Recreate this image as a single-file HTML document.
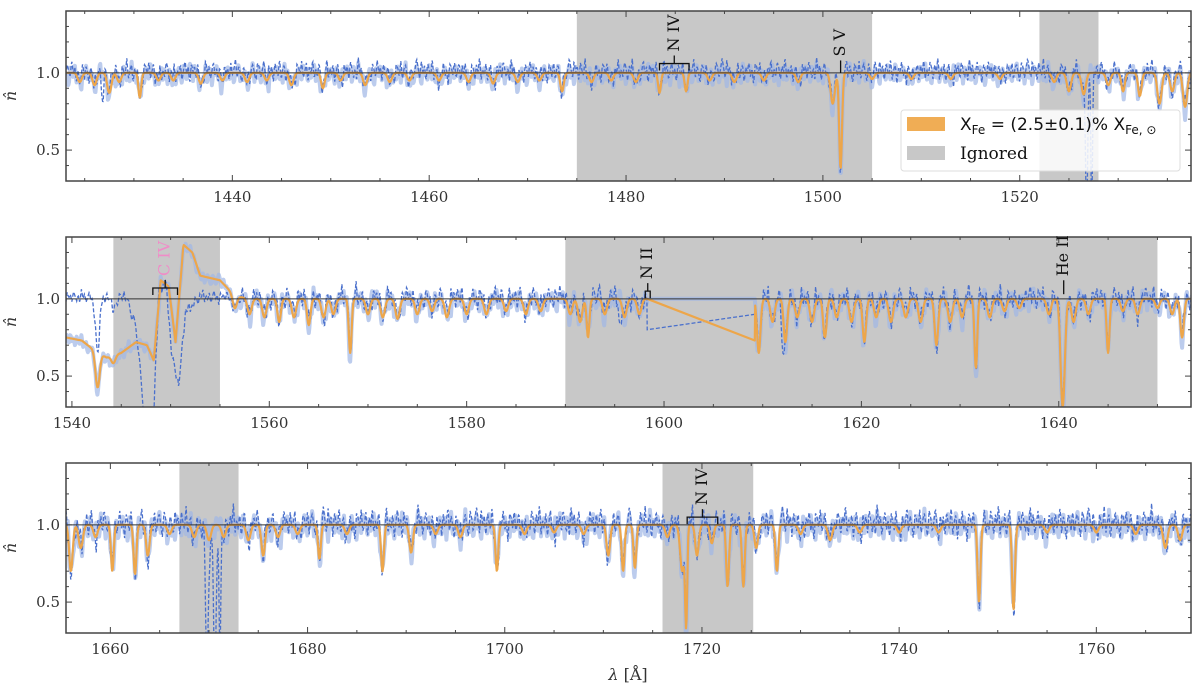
<!DOCTYPE html>
<html><head><meta charset="utf-8">
<style>
html,body{margin:0;padding:0;background:#fff;}
svg{display:block;font-family:"DejaVu Serif","Liberation Serif",serif;}
</style></head>
<body>
<svg id="chart" width="1200" height="686" viewBox="0 0 1200 686" xmlns="http://www.w3.org/2000/svg"></svg>
<script>
// ---- data ----
const panelRanges = [[1423.1,1537.4],[1539.4,1653.4],[1655.5,1769.6]];
const xTicks1 = [1440,1460,1480,1500,1520];
const xTicks2 = [1540,1560,1580,1600,1620,1640];
const xTicks3 = [1660,1680,1700,1720,1740,1760];
const yTicks = [0.5,1.0];
const ignored1 = [[1475,1505],[1522,1528]];
const ignored2 = [[1544.2,1555],[1590,1650]];
const ignored3 = [[1667,1673],[1716,1725.2]];
const lines1 = [[1424.5,0.06,0.3],[1426,0.08,0.3],[1427.5,0.13,0.3],[1428.5,0.06,.3],[1430.6,0.16,0.2],[1432.5,0.05,.3],[1434,0.05,.3],[1436.8,0.07,.3],[1439,0.05,.3],[1441.5,0.06,.3],[1443.5,0.05,.3],[1446,0.08,.3],[1449.2,0.1,.25],[1451,0.05,.3],[1453.5,0.08,.3],[1456,0.06,.3],[1458,0.05,.3],[1461,0.05,.3],[1464,0.06,.3],[1466.5,0.07,.3],[1469,0.06,.3],[1471.2,0.05,.3],[1473.5,0.12,.25],[1476.5,0.06,.3],[1478.5,0.05,.3],[1481,0.06,.3],[1483.4,0.13,.2],[1486.1,0.12,.2],[1488.5,0.05,.3],[1491,0.06,.3],[1494,0.05,.3],[1497.5,0.06,.3],[1501.0,0.2,.3],[1501.8,0.62,.2],[1505,0.04,.3],[1509,0.04,.3],[1513,0.04,.3],[1518,0.04,.3],[1523.5,0.06,.3],[1525,0.12,.3],[1526.5,0.14,.3],[1529,0.08,.3],[1530.5,0.12,.25],[1532.2,0.15,.25],[1534.2,0.2,.3],[1535.5,0.12,.3],[1536.8,0.22,.3]];
const lines2 = [[1542.6,0.35,.3],[1544.2,0.08,.3],[1556.5,0.08,.3],[1558,0.1,.3],[1559.5,0.12,.3],[1561,0.15,.25],[1562.5,0.12,.3],[1564,0.17,.25],[1565.5,0.12,.3],[1566.5,0.1,.3],[1568.2,0.35,.2],[1570,0.1,.3],[1571.5,0.12,.3],[1573,0.13,.3],[1575,0.1,.3],[1576.5,0.08,.3],[1578,0.12,.3],[1580,0.1,.3],[1582,0.1,.3],[1584,0.08,.3],[1586,0.1,.3],[1587.5,0.08,.3],[1590.5,0.1,.3],[1591.5,0.15,.3],[1592.3,0.25,.2],[1594,0.1,.3],[1596,0.12,.3],[1597.5,0.1,.3],[1609.6,0.35,.25],[1611,0.15,.3],[1612.3,0.28,.25],[1613.5,0.12,.3],[1615,0.15,.3],[1616.3,0.25,.25],[1617.5,0.12,.3],[1619,0.15,.3],[1620.3,0.28,.25],[1621.5,0.12,.3],[1623,0.15,.3],[1624.5,0.12,.3],[1626,0.15,.3],[1627.6,0.3,.25],[1629,0.15,.3],[1630.2,0.12,.3],[1631.6,0.45,.2],[1633,0.12,.3],[1634.5,0.08,.3],[1636,0.06,.3],[1639,0.1,.3],[1640.4,0.7,.3],[1641.5,0.15,.3],[1643,0.1,.3],[1645,0.35,.2],[1646.5,0.08,.3],[1648,0.1,.3],[1650,0.06,.3],[1651.5,0.1,.3],[1652.5,0.25,.25]];
const lines3 = [[1656,0.3,.25],[1657,0.15,.3],[1658.5,0.08,.3],[1660.2,0.3,.2],[1662.5,0.32,.2],[1663.8,0.2,.25],[1666,0.06,.3],[1668.5,0.08,.3],[1670,0.1,.3],[1671.5,0.08,.3],[1674,0.1,.3],[1675.5,0.2,.25],[1677,0.08,.3],[1679,0.06,.3],[1681.2,0.22,.2],[1684,0.06,.3],[1687.6,0.3,.2],[1690.5,0.18,.25],[1693,0.06,.3],[1695.5,0.08,.3],[1699.2,0.3,.2],[1702,0.06,.3],[1705,0.05,.3],[1708,0.06,.3],[1710.5,0.2,.25],[1712,0.3,.2],[1713.2,0.28,.2],[1716.5,0.08,.3],[1718.0,0.3,.3],[1718.4,0.62,.15],[1719.5,0.2,.25],[1721,0.12,.25],[1722.6,0.4,.2],[1724.2,0.4,.2],[1725.5,0.15,.25],[1727.6,0.3,.2],[1730,0.06,.3],[1733,0.1,.3],[1736,0.05,.3],[1740,0.05,.3],[1744,0.05,.3],[1748.1,0.5,.2],[1751.6,0.55,.2],[1755,0.05,.3],[1760,0.05,.3],[1764,0.06,.3],[1767,0.15,.3],[1768.5,0.1,.3]];
const obsExtra1 = [[1426.8,0.15,.2],[1526.8,0.9,.15],[1527.3,0.9,.12]];
const obsExtra2 = [[1612.0,0.3,.15],[1595.5,0.2,.15]];
const obsExtra3 = [[1656.2,0.12,.2],[1669.8,0.95,.2],[1670.6,0.95,.2],[1671.1,0.9,.12]];
const modelCont2 = [[1539.4,0.75],[1541,0.73],[1542,0.68],[1543.5,0.62],[1545,0.65],[1546.5,0.72],[1547.6,0.7],[1548.3,0.6],[1549,1.12],[1549.8,1.08],[1550.5,0.72],[1551.3,1.35],[1552.2,1.3],[1553,1.15],[1555,1.12],[1556.5,1.02],[1558,1.0],[1653.4,1.0]];
const obsCont2 = [[1539.4,1.0],[1545.5,1.0],[1546.5,0.8],[1547.3,0.25],[1548.3,0.25],[1548.8,1.05],[1549.5,1.1],[1550.2,0.6],[1550.8,0.42],[1551.5,0.9],[1553,1.0],[1653.4,1.0]];
const gap2 = [1598.3,1609.2];
const gapModel2 = [1.0,0.73];
const gapObs2 = [0.8,0.9];
const noise = [0.3,-0.8,1.2,-0.2,0.6,-1.1,0.9,0.1,-0.5,1.4,-0.9,0.2,0.7,-1.3,0.4,-0.1,1.0,-0.6,0.3,-1.5,0.8,0.5,-0.4,1.1,-0.7,0.0,0.9,-1.2,0.6,-0.3,1.3,-0.8,0.2,-0.6,1.0,0.4,-1.0,0.7,-0.2,1.6,-0.9,0.3,-0.5,0.8,-1.1,0.1,1.2,-0.4,0.5,-1.4,0.9,-0.1,0.6,-0.8,1.1,0.2,-0.7,0.4,-1.0,1.5,-0.3,0.7,-0.9,0.0,1.0,-0.5,0.3,-1.2,0.8,0.1,-0.6,1.2,-0.2,0.5,-1.0,0.9,-0.4,0.2,1.3,-0.8,0.6,-0.1,-1.3,0.7,0.4,-0.6,1.1,-0.9,0.3,0.8,-0.2,-1.1,1.0,0.5,-0.7,0.2,1.4];

// ---- drawing ----
const svg = document.getElementById('chart');
const NS = 'http://www.w3.org/2000/svg';
const X0 = 66, X1 = 1191;
const panelTops = [11,237,463];
const PH = 170;
const noiseAmp = [0.06,0.065,0.08];
function mk(tag, attrs, parent){ const e=document.createElementNS(NS,tag); for(const k in attrs) e.setAttribute(k,attrs[k]); (parent||svg).appendChild(e); return e; }
function interp(knots,x){ if(!knots) return 1; for(let i=0;i<knots.length-1;i++){ if(x>=knots[i][0]&&x<=knots[i+1][0]){ const t=(x-knots[i][0])/(knots[i+1][0]-knots[i][0]); return knots[i][1]+t*(knots[i+1][1]-knots[i][1]); } } return knots[knots.length-1][1]; }
function prof(lines,x){ let v=1; for(const l of lines){ const d=(x-l[0])/l[2]; if(Math.abs(d)<5) v-= l[1]*Math.exp(-d*d); } return v; }
function nz(x,off){ const p=x/0.16+off; const i=Math.floor(p); const t=p-i; const n=noise.length; const a=noise[((i%n)+n)%n], b=noise[(((i+1)%n)+n)%n]; return a+(b-a)*t; }

const tickSets=[xTicks1,xTicks2,xTicks3];
const ignSets=[ignored1,ignored2,ignored3];
const lineSets=[lines1,lines2,lines3];
const extraSets=[obsExtra1,obsExtra2,obsExtra3];
const modelConts=[null,modelCont2,null];
const obsConts=[null,obsCont2,null];

panelRanges.forEach((rng,pi)=>{
  const top=panelTops[pi], bot=top+PH;
  const sx=w=>X0+(w-rng[0])/(rng[1]-rng[0])*(X1-X0);
  const sy=v=>top+(1.4-v)/1.1*PH;
  const g=mk('g',{});
  
  
  const cp=mk('clipPath',{id:'cp'+pi},g); mk('rect',{x:X0,y:top,width:X1-X0,height:PH},cp);
  const body=mk('g',{'clip-path':'url(#cp'+pi+')'},g);
  ignSets[pi].forEach(r=>{
    const rr=mk('rect',{x:sx(r[0]),y:top,width:sx(r[1])-sx(r[0]),height:PH,fill:'#c8c8c8'},body);
    
    
  });
  const lines=lineSets[pi], extra=extraSets[pi];
  const ptsM=[],ptsO=[],ptsL=[];
  let gapDone=false;
  for(let w=rng[0]; w<=rng[1]; w+=0.06){
    if(pi===1 && w>gap2[0] && w<gap2[1]){
      if(!gapDone){ ptsM.push([gap2[0],gapModel2[0]],[gap2[1],gapModel2[1]]); ptsO.push([gap2[0],gapObs2[0]],[gap2[1],gapObs2[1]]); ptsL.push([gap2[0],1.0],[gap2[1],1.0]); gapDone=true; }
      continue;
    }
    const m=interp(modelConts[pi],w)*prof(lines,w);
    const base=interp(obsConts[pi],w)*prof(lines,w)*prof(extra,w);
    const amp = pi===1&&w<1557? 0.035 : noiseAmp[pi];
    ptsM.push([w,m]);
    ptsO.push([w,base+amp*nz(w,pi*31)+0.01]);
    ptsL.push([w,m+amp*0.9*nz(w,pi*31+47)-0.01]);
  }
  const toD=p=>p.map((q,i)=>(i?'L':'M')+sx(q[0]).toFixed(1)+' '+sy(q[1]).toFixed(1)).join('');
  const pl=mk('path',{d:toD(ptsL),fill:'none',stroke:'#9fb6e6','stroke-width':4,'stroke-opacity':0.7,'stroke-linejoin':'round'},body);
  
  
  const po=mk('path',{d:toD(ptsO),fill:'none',stroke:'#4a70cc','stroke-width':1.3,'stroke-dasharray':'4 2'},body);
  
  
  const pm=mk('path',{d:toD(ptsM),fill:'none',stroke:'#eda64a','stroke-width':2.2,'stroke-linejoin':'round'},body);
  
  
  const cl=mk('line',{x1:X0,x2:X1,y1:sy(1),y2:sy(1),stroke:'#333','stroke-width':1},body);
  
  
  const fr=mk('rect',{x:X0,y:top,width:X1-X0,height:PH,fill:'none',stroke:'#444','stroke-width':1.5},g);
  
  
  for(let t=Math.ceil(rng[0]/5)*5;t<=rng[1];t+=5){
    const x=sx(t), big=t%20===0, L=big?6:3;
    mk('line',{x1:x,x2:x,y1:bot,y2:bot-L,stroke:'#444','stroke-width':1},g);
    mk('line',{x1:x,x2:x,y1:top,y2:top+L,stroke:'#444','stroke-width':1},g);
  }
  tickSets[pi].forEach(t=>{
    const tx=mk('text',{x:sx(t),y:bot+21,'text-anchor':'middle','font-size':15,fill:'#333'},g);
    tx.textContent=t;
    
    
  });
  for(let v=0.4;v<=1.31;v+=0.1){
    const y=sy(v), big=Math.abs(v-0.5)<0.01||Math.abs(v-1)<0.01, L=big?6:3;
    mk('line',{x1:X0,x2:X0+L,y1:y,y2:y,stroke:'#444','stroke-width':1},g);
    mk('line',{x1:X1,x2:X1-L,y1:y,y2:y,stroke:'#444','stroke-width':1},g);
  }
  yTicks.forEach(v=>{
    const tx=mk('text',{x:X0-6,y:sy(v)+5,'text-anchor':'end','font-size':15,fill:'#333'},g);
    tx.textContent=v.toFixed(1);
    
    
  });
  const yl=mk('text',{x:16,y:sy(0.85),'text-anchor':'middle','font-size':16,fill:'#333',transform:'rotate(-90 16 '+sy(0.85)+')','font-style':'italic'},g);
  yl.textContent='n̂';
  
  
  panelRanges[pi].sx=sx; panelRanges[pi].sy=sy;
});

function bracket(pi,w0,w1,v,label,color){
  const sx=panelRanges[pi].sx, sy=panelRanges[pi].sy, y=sy(v), xm=(sx(w0)+sx(w1))/2;
  const g=mk('g',{});
  
  
  mk('path',{d:`M${sx(w0)} ${y+7}V${y}H${sx(w1)}V${y+7}M${xm} ${y}V${y-8}`,fill:'none',stroke:'#111','stroke-width':1.3},g);
  const t=mk('text',{x:xm,y:y-12,'font-size':16,fill:color||'#111',transform:`rotate(-90 ${xm} ${y-12})`,'dominant-baseline':'middle'},g);
  t.textContent=label;
}
function tick(pi,w,v0,v1,label){
  const sx=panelRanges[pi].sx, sy=panelRanges[pi].sy, x=sx(w);
  const g=mk('g',{});
  
  
  mk('line',{x1:x,x2:x,y1:sy(v0),y2:sy(v1),stroke:'#111','stroke-width':1.3},g);
  const t=mk('text',{x:x,y:sy(v1)-4,'font-size':16,fill:'#111',transform:`rotate(-90 ${x} ${sy(v1)-4})`,'dominant-baseline':'middle'},g);
  t.textContent=label;
}
bracket(0,1483.4,1486.4,1.06,'N IV');
tick(0,1501.8,1.0,1.08,'S V');
bracket(1,1548.2,1550.7,1.07,'C IV','#f08cc8');
bracket(1,1598.1,1598.6,1.05,'N II');
tick(1,1640.5,1.03,1.12,'He II');
bracket(2,1718.5,1721.6,1.05,'N IV');

const lg=mk('g',{});


mk('rect',{x:901,y:110,width:279,height:61,rx:3,fill:'#fff','fill-opacity':0.85,stroke:'#ddd'},lg);
const le1=mk('rect',{x:907,y:117,width:38,height:14,fill:'#f0ad55'},lg);


const lt1=mk('text',{x:960,y:130,'font-size':17,fill:'#111','font-family':'"DejaVu Sans","Liberation Sans",sans-serif'},lg);
lt1.innerHTML='X<tspan font-size="12" dy="4">Fe</tspan><tspan dy="-4"> = (2.5±0.1)% X</tspan><tspan font-size="12" dy="4">Fe, ⊙</tspan>';


const le2=mk('rect',{x:907,y:146,width:38,height:14,fill:'#c8c8c8'},lg);


const lt2=mk('text',{x:960,y:159,'font-size':17,fill:'#111'},lg);
lt2.textContent='Ignored';



const xl=mk('text',{x:628,y:680,'text-anchor':'middle','font-size':16,fill:'#333'});
xl.innerHTML='<tspan font-style="italic">λ</tspan> [Å]';


</script>
</body></html>
